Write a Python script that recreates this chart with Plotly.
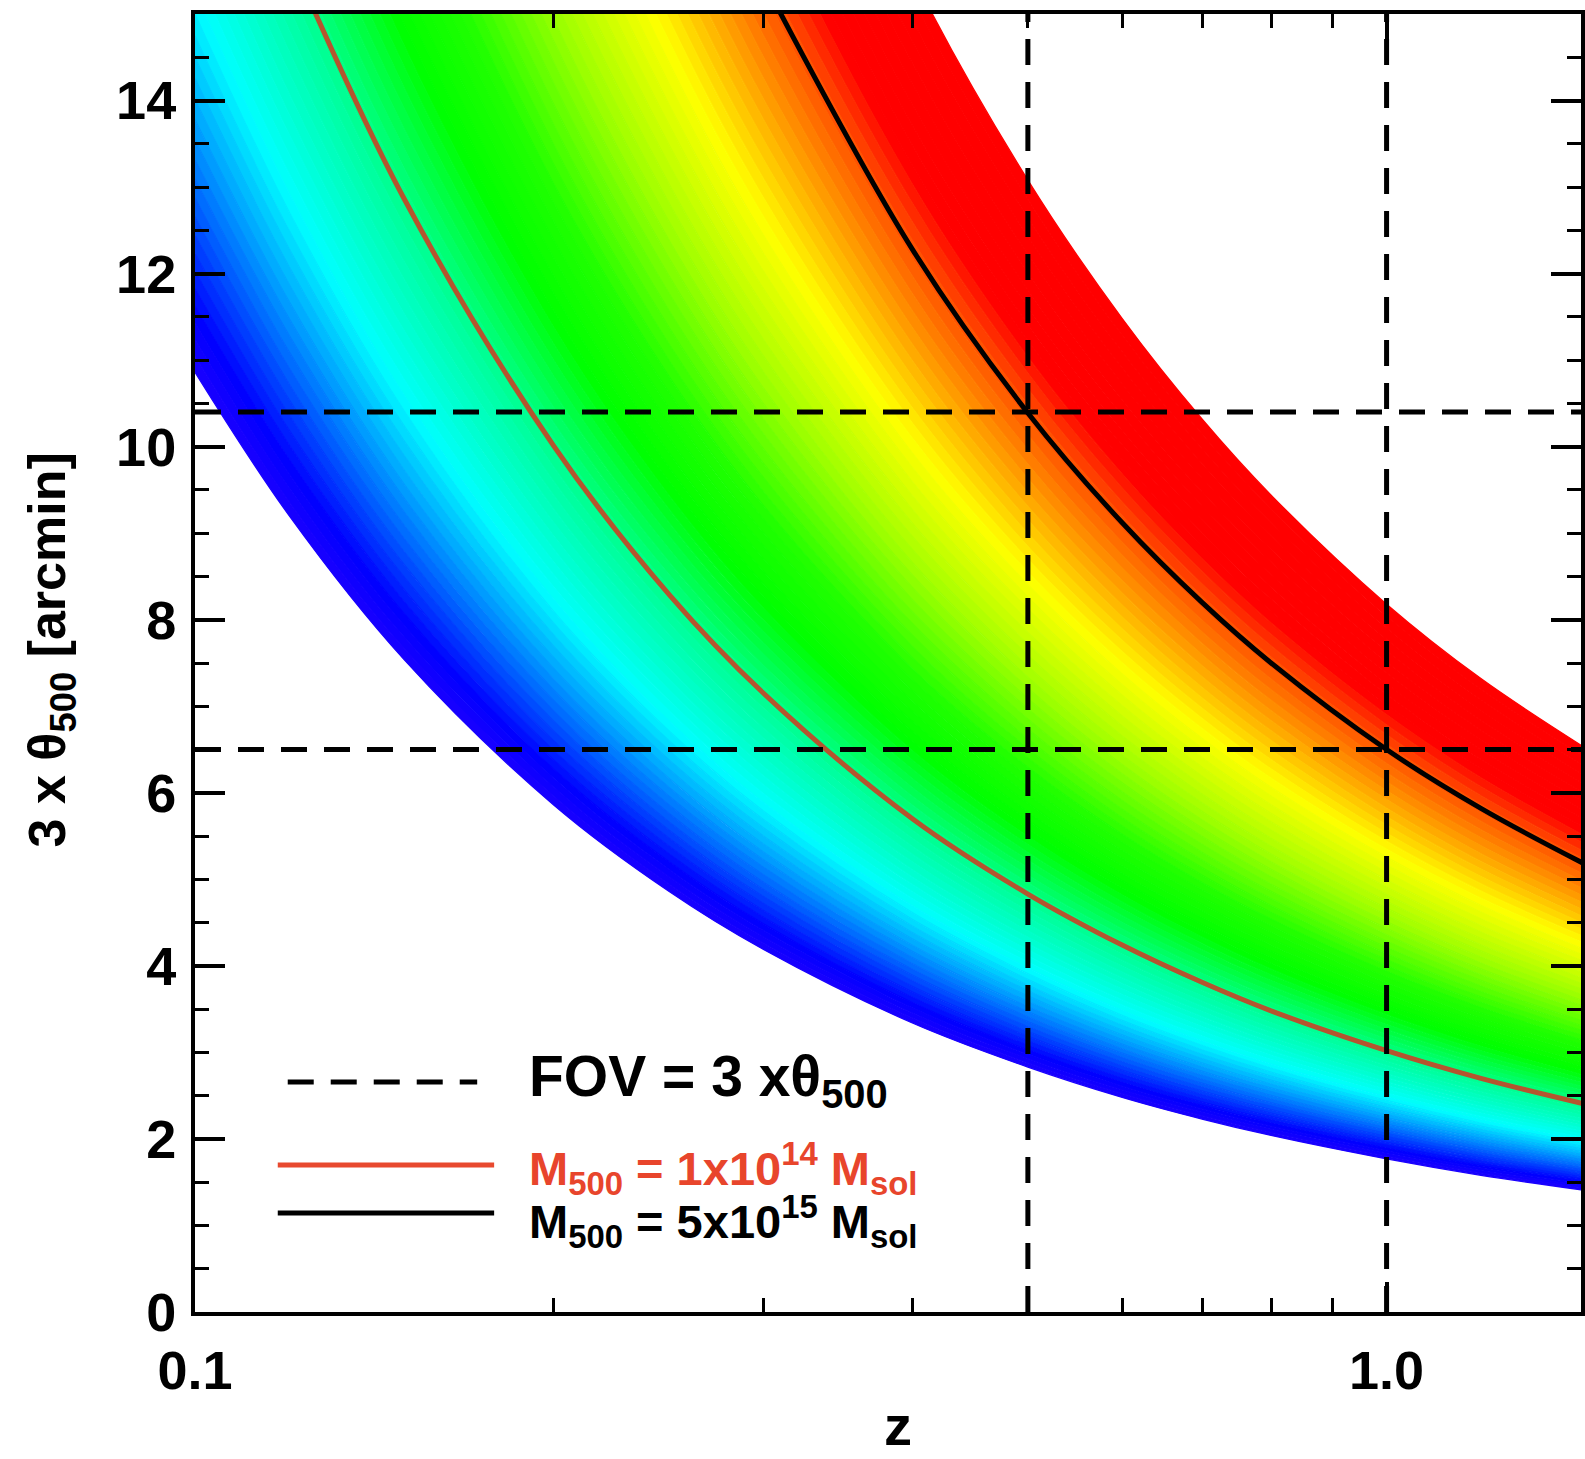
import numpy as np
import plotly.graph_objects as go
from plotly.colors import sample_colorscale

# ---------------- data ----------------
z = [0.10, 0.12, 0.15, 0.20, 0.25, 0.30, 0.40, 0.50, 0.60, 0.70, 0.80, 1.00, 1.20, 1.46]
# lower (blue) and upper (red) edges of the mass band, 3 x theta500 [arcmin]
theta_lower = [10.86, 9.20, 7.53, 5.86, 4.86, 4.19, 3.34, 2.83, 2.48, 2.23, 2.04, 1.77, 1.58, 1.41]
theta_upper = [50.18, 42.50, 34.81, 27.10, 22.46, 19.36, 15.45, 13.08, 11.48, 10.32, 9.44, 8.18, 7.32, 6.54]

# M500 = 1e14 Msol curve
z_m14 = [0.12, 0.15, 0.20, 0.25, 0.30, 0.40, 0.50, 0.60, 0.70, 0.80, 1.00, 1.20, 1.46]
theta_m14 = [15.69, 12.85, 10.01, 8.29, 7.15, 5.70, 4.83, 4.24, 3.81, 3.48, 3.02, 2.70, 2.41]

# M500 = 5e15 Msol curve
z_m15 = [0.30, 0.40, 0.50, 0.60, 0.70, 0.80, 1.00, 1.20, 1.46]
theta_m15 = [15.38, 12.28, 10.39, 9.12, 8.20, 7.50, 6.50, 5.82, 5.19]

fov_levels = [10.4, 6.5]      # horizontal dashed lines
z_marks = [0.5, 1.0]          # vertical dashed lines

x_range = [0.1, 1.456]
y_range = [0, 15]
y_tickvals = [0, 2, 4, 6, 8, 10, 12, 14]
x_tickvals = [0.1, 1.0]
x_ticktext = ["0.1", "1.0"]
x_minor = [0.2, 0.3, 0.4, 0.5, 0.6, 0.7, 0.8, 0.9]

legend_fov = "FOV = 3 x\u03b8<sub>500</sub>"
legend_m14 = "M<sub>500</sub> = 1x10<sup>14</sup> M<sub>sol</sub>"
legend_m15 = "M<sub>500</sub> = 5x10<sup>15</sup> M<sub>sol</sub>"

# ---------------- styling ----------------
FONT = "Liberation Sans"
band_scale = [
    [0.00, "rgb(26,0,255)"],
    [0.04, "rgb(0,0,255)"],
    [0.22, "rgb(0,255,255)"],
    [0.335, "rgb(0,255,154)"],
    [0.44, "rgb(0,255,0)"],
    [0.515, "rgb(32,255,0)"],
    [0.62, "rgb(160,255,0)"],
    [0.72, "rgb(255,255,0)"],
    [0.795, "rgb(255,154,0)"],
    [0.855, "rgb(255,74,0)"],
    [0.895, "rgb(255,0,0)"],
    [1.00, "rgb(255,0,0)"],
]

fig = go.Figure()

# colour band built from strips between the lower and upper edges
lo = np.array(theta_lower)
up = np.array(theta_upper)
N = 90
for k in range(N + 1):
    s = k / N
    th = lo * (up / lo) ** s
    col = sample_colorscale(band_scale, [max(s - 0.5 / N, 0.0)])[0]
    fig.add_trace(go.Scatter(
        x=z, y=th, mode="lines",
        line=dict(shape="spline", width=1.3, color=col),
        fill="tonexty" if k > 0 else None,
        fillcolor=col, hoverinfo="skip", showlegend=False))

# mass curves
fig.add_trace(go.Scatter(x=z_m14, y=theta_m14, mode="lines",
                         line=dict(shape="spline", width=5, color="#b4552f"),
                         showlegend=False, hoverinfo="skip"))
fig.add_trace(go.Scatter(x=z_m15, y=theta_m15, mode="lines",
                         line=dict(shape="spline", width=5, color="black"),
                         showlegend=False, hoverinfo="skip"))

# dashed FOV lines
for lev in fov_levels:
    fig.add_trace(go.Scatter(x=x_range, y=[lev, lev], mode="lines",
                             line=dict(color="black", width=5, dash="26px,17px"),
                             showlegend=False, hoverinfo="skip"))
for zm in z_marks:
    fig.add_trace(go.Scatter(x=[zm, zm], y=y_range, mode="lines",
                             line=dict(color="black", width=5, dash="26px,17px"),
                             showlegend=False, hoverinfo="skip"))

W, H = 1585, 1459
L, R, T, B = 195, 0, 14, 147
pw, ph = W - L - R, H - T - B


def px(xp):
    return (xp - L) / pw


def py(yp):
    return (H - B - yp) / ph


tickfont = dict(family=FONT, size=54, color="black", weight="bold")
fig.update_layout(
    width=W, height=H,
    margin=dict(l=L, r=R, t=T, b=B),
    paper_bgcolor="white", plot_bgcolor="white",
    xaxis=dict(type="log", range=[np.log10(x_range[0]), np.log10(x_range[1])],
               tickmode="array", tickvals=x_tickvals, ticktext=x_ticktext,
               ticks="inside", ticklen=30, tickwidth=4, tickcolor="black",
               showline=True, linewidth=4, linecolor="black", mirror="ticks",
               showgrid=False, zeroline=False, tickfont=tickfont,
               ticklabelstandoff=8,
               minor=dict(tickmode="array", tickvals=x_minor, ticks="inside",
                          ticklen=14, tickwidth=3, tickcolor="black", showgrid=False)),
    yaxis=dict(range=y_range, tickmode="array", tickvals=y_tickvals,
               ticks="inside", ticklen=30, tickwidth=4, tickcolor="black",
               showline=True, linewidth=4, linecolor="black", mirror="ticks",
               showgrid=False, zeroline=False, tickfont=tickfont,
               ticklabelstandoff=4,
               minor=dict(dtick=0.5, tick0=0, ticks="inside", ticklen=14,
                          tickwidth=3, tickcolor="black", showgrid=False)),
)

# axis titles
fig.add_annotation(text="<b>z</b>", xref="paper", yref="paper",
                   x=px(900), y=py(1459), showarrow=False,
                   xanchor="center", yanchor="bottom",
                   font=dict(family=FONT, size=56, color="black"))
fig.add_annotation(text="<b>3 x \u03b8<sub>500</sub> [arcmin]</b>", xref="paper", yref="paper",
                   x=px(51), y=py(650), showarrow=False, textangle=-90,
                   xanchor="center", yanchor="middle",
                   font=dict(family=FONT, size=52, color="black"))

# legend drawn inside the plot
fig.add_shape(type="line", xref="paper", yref="paper",
              x0=px(288), x1=px(478), y0=py(1082), y1=py(1082),
              line=dict(color="black", width=5, dash="26px,17px"))
fig.add_shape(type="line", xref="paper", yref="paper",
              x0=px(278), x1=px(495), y0=py(1165), y1=py(1165),
              line=dict(color="#e8492f", width=5))
fig.add_shape(type="line", xref="paper", yref="paper",
              x0=px(278), x1=px(495), y0=py(1213), y1=py(1213),
              line=dict(color="black", width=5))

fig.add_annotation(text="<b>" + legend_fov + "</b>", xref="paper", yref="paper",
                   x=px(528), y=py(1080), showarrow=False,
                   xanchor="left", yanchor="middle",
                   font=dict(family=FONT, size=57, color="black"))
fig.add_annotation(text="<b>" + legend_m14 + "</b>", xref="paper", yref="paper",
                   x=px(528), y=py(1168), showarrow=False,
                   xanchor="left", yanchor="middle",
                   font=dict(family=FONT, size=47, color="#e8452c"))
fig.add_annotation(text="<b>" + legend_m15 + "</b>", xref="paper", yref="paper",
                   x=px(528), y=py(1221), showarrow=False,
                   xanchor="left", yanchor="middle",
                   font=dict(family=FONT, size=47, color="black"))

fig.write_html("out.html")
